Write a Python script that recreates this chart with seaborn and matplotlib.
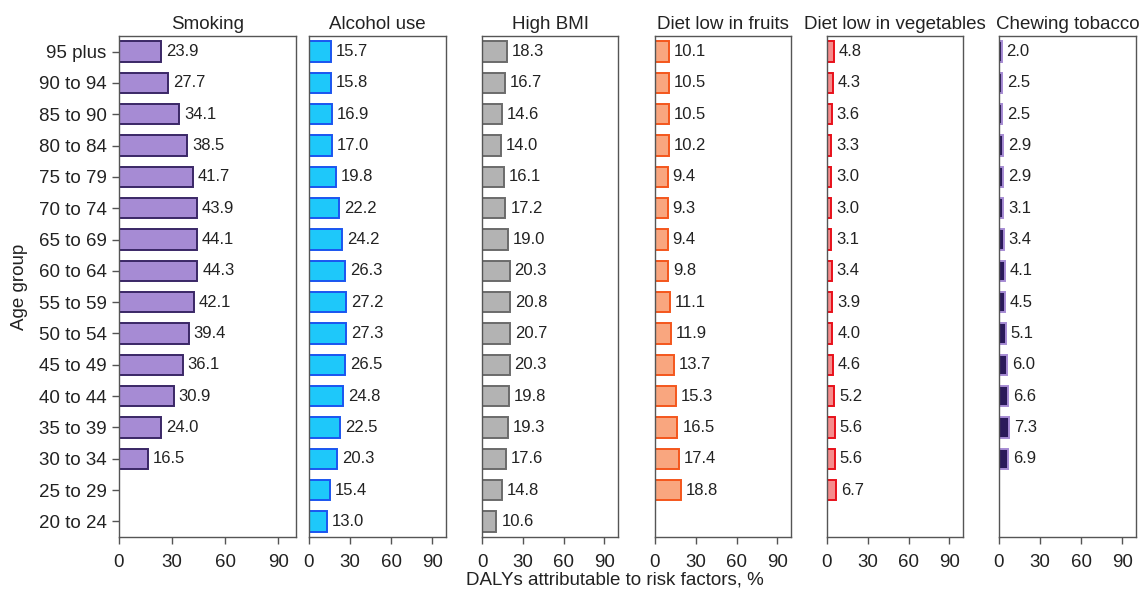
import numpy as np
import pandas as pd
import matplotlib
matplotlib.use("Agg")
import matplotlib.pyplot as plt
import seaborn as sns

ages = ["95 plus", "90 to 94", "85 to 90", "80 to 84", "75 to 79", "70 to 74",
        "65 to 69", "60 to 64", "55 to 59", "50 to 54", "45 to 49", "40 to 44",
        "35 to 39", "30 to 34", "25 to 29", "20 to 24"]

panels = ["Smoking", "Alcohol use", "High BMI", "Diet low in fruits",
          "Diet low in vegetables", "Chewing tobacco"]

smoking = [23.9, 27.7, 34.1, 38.5, 41.7, 43.9, 44.1, 44.3, 42.1, 39.4, 36.1, 30.9, 24.0, 16.5, np.nan, np.nan]
alcohol = [15.7, 15.8, 16.9, 17.0, 19.8, 22.2, 24.2, 26.3, 27.2, 27.3, 26.5, 24.8, 22.5, 20.3, 15.4, 13.0]
high_bmi = [18.3, 16.7, 14.6, 14.0, 16.1, 17.2, 19.0, 20.3, 20.8, 20.7, 20.3, 19.8, 19.3, 17.6, 14.8, 10.6]
fruits = [10.1, 10.5, 10.5, 10.2, 9.4, 9.3, 9.4, 9.8, 11.1, 11.9, 13.7, 15.3, 16.5, 17.4, 18.8, np.nan]
vegetables = [4.8, 4.3, 3.6, 3.3, 3.0, 3.0, 3.1, 3.4, 3.9, 4.0, 4.6, 5.2, 5.6, 5.6, 6.7, np.nan]
chewing = [2.0, 2.5, 2.5, 2.9, 2.9, 3.1, 3.4, 4.1, 4.5, 5.1, 6.0, 6.6, 7.3, 6.9, np.nan, np.nan]

series = [smoking, alcohol, high_bmi, fruits, vegetables, chewing]
fills = ["#a68bd4", "#1ec8fa", "#b3b3b3", "#f9a67f", "#f58c8c", "#2b1a5a"]
edges = ["#3a2766", "#1a55f0", "#6b6b6b", "#f4561c", "#e8101a", "#a68bd4"]
xticks = [0, 30, 60, 90]

sns.set_theme(style="white")
plt.rcParams["font.family"] = ["Liberation Sans", "DejaVu Sans"]

fig = plt.figure(figsize=(11.43, 5.92), dpi=100)
W = 1143.0
H = 592.0
lefts = [119, 309, 482, 655, 827, 999]
widths = [177, 137, 136, 136, 136, 137]
top_px, bot_px = 36, 537

text_col = "#222222"
spine_col = "#555555"

for i, (name, vals) in enumerate(zip(panels, series)):
    ax = fig.add_axes([lefts[i] / W, 1 - bot_px / H, widths[i] / W, (bot_px - top_px) / H])
    df = pd.DataFrame({"age": ages, "value": vals}).dropna()
    sns.barplot(data=df, x="value", y="age", order=ages, orient="h", ax=ax,
                color=fills[i], edgecolor=edges[i], linewidth=1.4, width=0.65,
                saturation=1)
    for c in ax.containers:
        ax.bar_label(c, fmt="%.1f", padding=3.5, fontsize=12, color=text_col)
    ax.set_xlim(0, 100)
    ax.set_xticks(xticks)
    ax.set_title(name, fontsize=13.5, color=text_col, pad=5)
    ax.set_xlabel("")
    ax.set_ylabel("")
    for s in ax.spines.values():
        s.set_visible(True)
        s.set_color(spine_col)
        s.set_linewidth(1.0)
    ax.tick_params(axis="x", bottom=True, length=5, width=1, color=spine_col,
                   labelsize=13.5, labelcolor=text_col, pad=7)
    if i == 0:
        ax.tick_params(axis="y", left=True, length=5, width=1, color=spine_col,
                       labelsize=13.5, labelcolor=text_col, pad=4)
        ax.set_ylabel("Age group", fontsize=13.5, color=text_col, labelpad=8)
    else:
        ax.tick_params(axis="y", left=False, labelleft=False)

fig.text(615 / W, 1 - 580 / H, "DALYs attributable to risk factors, %",
         ha="center", va="center", fontsize=13.5, color=text_col)

fig.savefig("out.png", dpi=100)
